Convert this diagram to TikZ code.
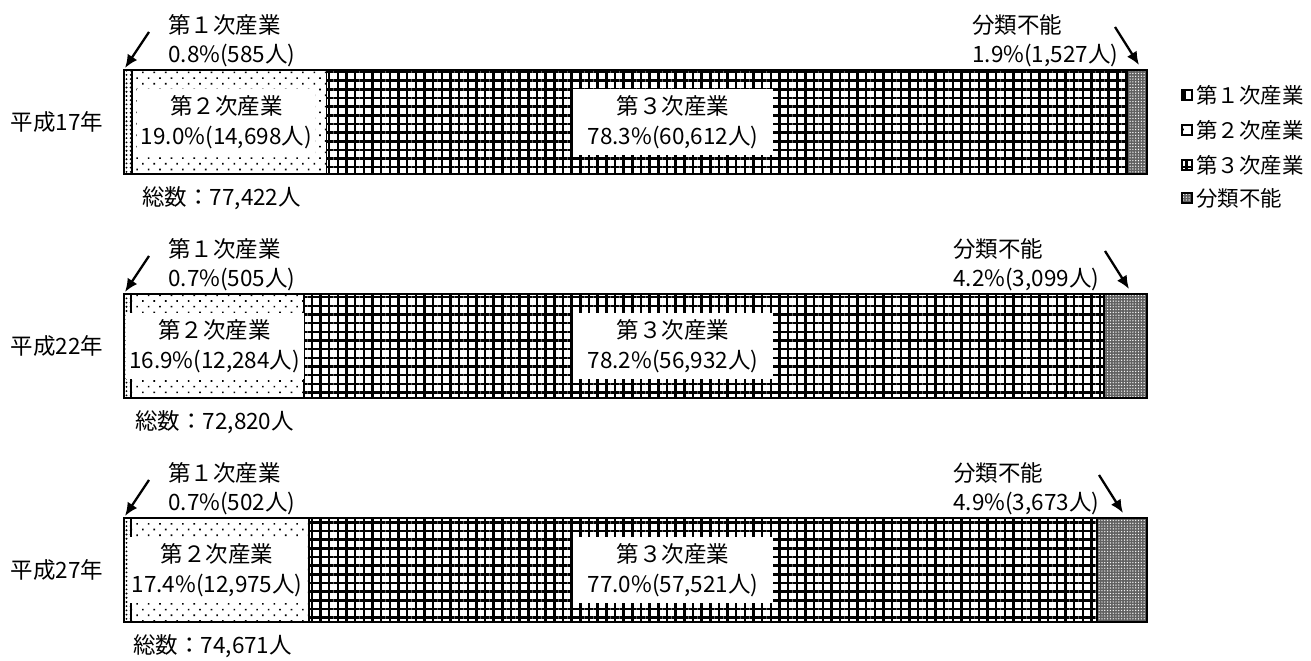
\documentclass[tikz,border=0pt]{standalone}
\usepackage{fontspec}
\newfontfamily\jpfont{Noto Sans CJK JP}
\usetikzlibrary{patterns.meta,arrows.meta}

\begin{document}
\begin{tikzpicture}[x=0.02cm,y=-0.02cm]
\tikzset{
    bar line/.style={line width=1.5pt},
    seg line/.style={line width=0.9pt},
    first/.style={preaction={fill=white},pattern={Dots[distance=2.4pt,radius=0.6pt]}},
    second/.style={preaction={fill=white},pattern={Dots[distance=4.6pt,radius=0.65pt,angle=45]}},
    third/.style={preaction={fill=white},pattern={Hatch[distance=4.93pt,line width=1.4pt]}},
    unknown/.style={preaction={fill=black!62},pattern={Dots[distance=1.6pt,radius=0.4pt]},pattern color=white},
    label/.style={font=\jpfont\fontsize{12.8}{17}\selectfont, inner sep=0pt},
    box/.style={label, fill=white, align=center, inner xsep=2pt, minimum height=38pt},
    legend/.style={font=\jpfont\fontsize{12.2}{15}\selectfont, inner sep=0pt, anchor=west},
    legmark/.style={draw, line width=0.8pt, minimum size=5.5pt, inner sep=0pt},
    pointer/.style={-{Latex[length=7.5pt,width=6.5pt]}, line width=1.3pt}}

\useasboundingbox (0,0) rectangle (1311,661);

\foreach \i/\T/\yr/\tot/\tx/\pa/\na/\pb/\nb/\pc/\nc/\pd/\nd/\rx/\ax in {
    1/70/17/{77,422}/142/0.8/585/19.0/{14,698}/78.3/{60,612}/1.9/{1,527}/972/1115,
    2/294/22/{72,820}/135/0.7/505/16.9/{12,284}/78.2/{56,932}/4.2/{3,099}/953/1105,
    3/518/27/{74,671}/133/0.7/502/17.4/{12,975}/77.0/{57,521}/4.9/{3,673}/953/1099}{
    \pgfmathsetmacro\xa{124+10.23*\pa}
    \pgfmathsetmacro\xb{\xa+10.23*\pb}
    \pgfmathsetmacro\xc{\xb+10.23*\pc}
    \pgfmathsetmacro\B{\T+104}

    \fill[first] (124,\T) rectangle (\xa,\B);
    \fill[second] (\xa,\T) rectangle (\xb,\B);
    \fill[third] (\xb,\T) rectangle (\xc,\B);
    \fill[unknown] (\xc,\T) rectangle (1147,\B);
    \draw[seg line] (\xa,\T)--(\xa,\B) (\xb,\T)--(\xb,\B) (\xc,\T)--(\xc,\B);
    \draw[bar line] (124,\T) rectangle (1147,\B);

    \node[box] (sec\i) at ({(\xa+\xb)/2-3},\T+52) {第２次産業\\\pb\%(\nb{}人)};
    \node[box, minimum width=114pt] (ter\i) at (673,\T+52) {第３次産業\\\pc\%(\nc{}人)};

    \node[label] (yr\i) at (57,\T+52) {平成\yr{}年};
    \node[label, anchor=west] (tot\i) at (\tx,\T+128) {総数：\tot{}人};
    \node[label, anchor=west] (pri\i) at (168,\T-45) {第１次産業};
    \node[label, anchor=west] (prin\i) at (168,\T-14) {\pa\%(\na{}人)};
    \node[label, anchor=west] (unk\i) at (\rx,\T-45) {分類不能};
    \node[label, anchor=west] (unkn\i) at (\rx,\T-14) {\pd\%(\nd{}人)};

    \coordinate (lt\i) at (149,\T-38);
    \coordinate (lh\i) at (125,\T-2);
    \coordinate (rt\i) at (\ax,\T-43);
    \coordinate (rh\i) at (\ax+24,\T-5);
    \draw[pointer] (lt\i)--(lh\i);
    \draw[pointer] (rt\i)--(rh\i);
}

\node[legmark, third] (m3) at (1187,165) {};
\node[legmark, second] (m2) at (1187,130) {};
\node[legmark, unknown] (m4) at (1187,198) {};
\node[legmark, fill=white] (m1) at (1187,95) {};
\fill (m1.north west) rectangle ([xshift=-0.5pt]m1.south);
\node[legend] (leg1) at (1196,95) {第１次産業};
\node[legend] (leg2) at (1196,130) {第２次産業};
\node[legend] (leg3) at (1196,165) {第３次産業};
\node[legend] (leg4) at (1196,198) {分類不能};

\end{tikzpicture}
\end{document}
